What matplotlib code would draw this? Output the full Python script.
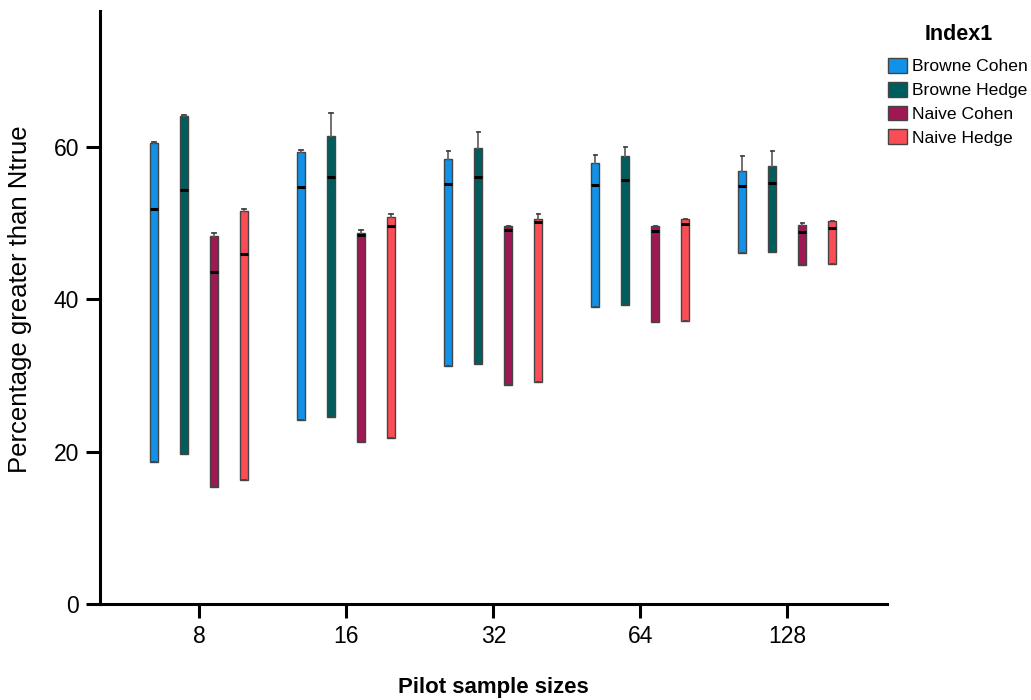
import matplotlib
matplotlib.use("Agg")
import matplotlib.pyplot as plt
from matplotlib.patches import Patch

plt.rcParams['font.family'] = ['Liberation Sans', 'DejaVu Sans']

categories = ["8", "16", "32", "64", "128"]
series = ["Browne Cohen", "Browne Hedge", "Naive Cohen", "Naive Hedge"]
colors = ["#1192e8", "#005d5d", "#9f1853", "#fa4d56"]

bc_q1 = [18.7, 24.1, 31.2, 39.0, 46.1]
bc_med = [51.9, 54.7, 55.1, 55.0, 54.9]
bc_q3 = [60.5, 59.3, 58.4, 57.9, 56.9]
bc_hi = [60.7, 59.6, 59.5, 59.0, 58.8]

bh_q1 = [19.7, 24.6, 31.5, 39.3, 46.2]
bh_med = [54.4, 56.0, 56.0, 55.6, 55.3]
bh_q3 = [64.0, 61.4, 59.9, 58.8, 57.5]
bh_hi = [64.2, 64.4, 61.9, 60.0, 59.5]

nc_q1 = [15.4, 21.3, 28.8, 37.0, 44.5]
nc_med = [43.6, 48.4, 49.1, 49.0, 48.8]
nc_q3 = [48.3, 48.7, 49.6, 49.6, 49.7]
nc_hi = [48.7, 49.1, 49.6, 49.6, 50.0]

nh_q1 = [16.3, 21.8, 29.2, 37.2, 44.6]
nh_med = [45.9, 49.6, 50.2, 49.9, 49.3]
nh_q3 = [51.6, 50.8, 50.5, 50.5, 50.3]
nh_hi = [51.9, 51.2, 51.2, 50.5, 50.3]

all_series = [
    (bc_q1, bc_med, bc_q3, bc_hi),
    (bh_q1, bh_med, bh_q3, bh_hi),
    (nc_q1, nc_med, nc_q3, nc_hi),
    (nh_q1, nh_med, nh_q3, nh_hi),
]

fig = plt.figure(figsize=(10.31, 7.0), dpi=100)
ax = fig.add_axes([100/1031, 1 - 604/700, (886.7 - 100)/1031, (604 - 11)/700])

offsets = [-0.306, -0.102, 0.102, 0.306]
for s, (q1, med, q3, hi) in enumerate(all_series):
    stats = []
    for i in range(len(categories)):
        stats.append(dict(whislo=q1[i], q1=q1[i], med=med[i], q3=q3[i], whishi=hi[i], fliers=[]))
    pos = [i + offsets[s] for i in range(len(categories))]
    ax.bxp(stats, positions=pos, widths=0.055, patch_artist=True, showfliers=False,
           capwidths=0.025,
           boxprops=dict(facecolor=colors[s], edgecolor="#444444", linewidth=1.0),
           medianprops=dict(color="black", linewidth=2.2),
           whiskerprops=dict(color="#666666", linewidth=1.3),
           capprops=dict(color="#444444", linewidth=1.3))

ax.set_xlim(-0.675, 4.675)
ax.set_ylim(0, 77.85)
ax.set_xticks(range(len(categories)))
ax.set_xticklabels(categories)
ax.set_yticks([0, 20, 40, 60])
for sp in ["top", "right"]:
    ax.spines[sp].set_visible(False)
for sp in ["left", "bottom"]:
    ax.spines[sp].set_linewidth(2.2)
ax.tick_params(axis="both", direction="out", length=10, width=2.2, labelsize=16.5, pad=5)
ax.set_xlabel("Pilot sample sizes", fontsize=16, fontweight="bold")
ax.xaxis.label.set_va("center")
ax.xaxis.set_label_coords(0.5, -(687 - 604) / 593)
ax.set_ylabel("Percentage greater than Ntrue", fontsize=18.5)
ax.yaxis.label.set_va("center")
ax.yaxis.set_label_coords(-(100 - 20) / 786.7, (604 - 299) / 593)

fig.text(959/1031, 1 - 34/700, "Index1", fontsize=15.5, fontweight="bold",
         ha="center", va="center")

handles = [Patch(facecolor=c, edgecolor="#444444", linewidth=1.0) for c in colors]
leg = fig.legend(handles, series, loc="upper left", bbox_to_anchor=(888/1031, 1 - 58/700),
                 frameon=False, fontsize=12.6,
                 handlelength=1.1, handleheight=0.92, handletextpad=0.3,
                 labelspacing=0.42, borderpad=0, borderaxespad=0)

fig.savefig("out.png", dpi=100)
